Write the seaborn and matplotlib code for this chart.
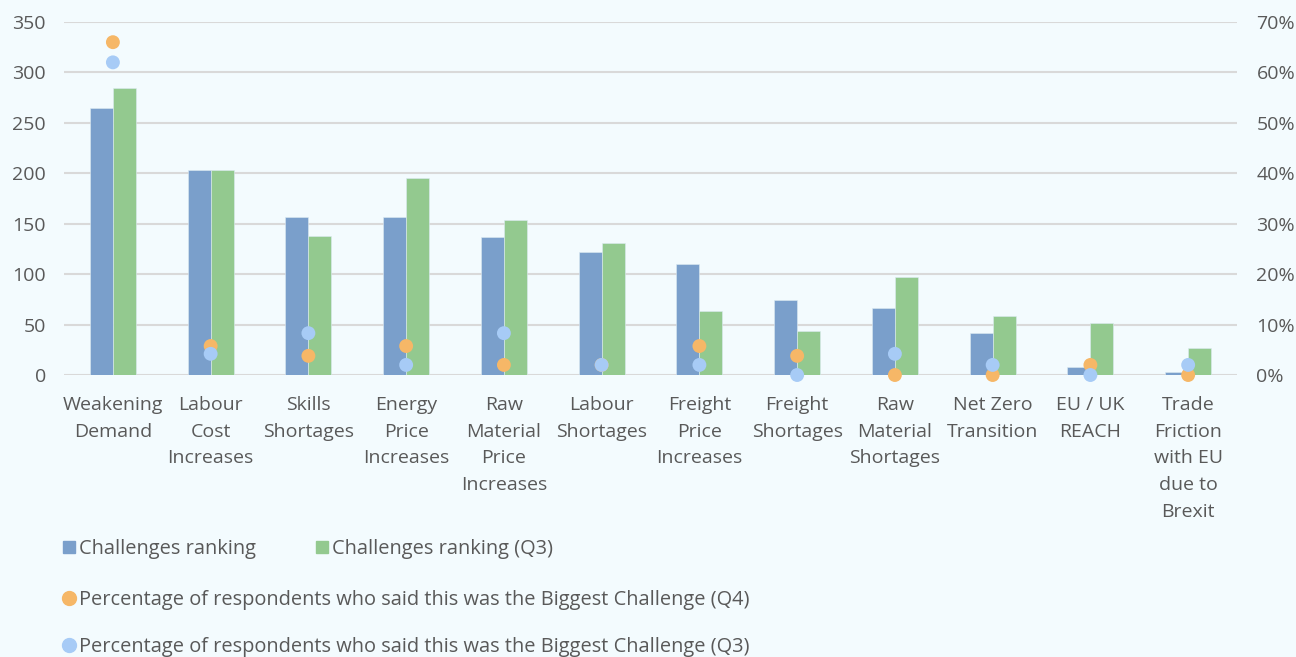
import numpy as np
import pandas as pd
import matplotlib
matplotlib.use('Agg')
import matplotlib.pyplot as plt
from matplotlib.lines import Line2D
import seaborn as sns

categories = [
    'Weakening\nDemand', 'Labour\nCost\nIncreases', 'Skills\nShortages',
    'Energy\nPrice\nIncreases', 'Raw\nMaterial\nPrice\nIncreases',
    'Labour\nShortages', 'Freight\nPrice\nIncreases', 'Freight\nShortages',
    'Raw\nMaterial\nShortages', 'Net Zero\nTransition', 'EU / UK\nREACH',
    'Trade\nFriction\nwith EU\ndue to\nBrexit',
]
ranking_q4 = [265, 203, 157, 157, 137, 122, 110, 74, 66, 42, 8, 3]
ranking_q3 = [285, 203, 138, 195, 154, 131, 63, 44, 97, 59, 52, 27]
biggest_q4 = [66, 5.75, 3.8, 5.75, 2, 2, 5.75, 3.8, 0, 0, 2, 0]
biggest_q3 = [62, 4.2, 8.3, 2, 8.3, 2, 2, 0, 4.2, 2, 0, 2]

bar_labels = ['Challenges ranking', 'Challenges ranking (Q3)']
dot_labels = ['Percentage of respondents who said this was the Biggest Challenge (Q4)',
              'Percentage of respondents who said this was the Biggest Challenge (Q3)']

BG = '#F3FBFE'
TXT = '#595959'
BLUE = '#7A9FCB'
GREEN = '#93C98F'
ORANGE = '#F6B767'
LBLUE = '#A7CBF6'
FS = 14

sns.set_theme(style='white')
plt.rcParams['font.family'] = ['Open Sans', 'DejaVu Sans']

bars = pd.DataFrame({
    'category': categories * 2,
    'value': ranking_q4 + ranking_q3,
    'series': [bar_labels[0]] * 12 + [bar_labels[1]] * 12,
})
dots = pd.DataFrame({
    'category': categories * 2,
    'pct': biggest_q4 + biggest_q3,
    'series': [dot_labels[0]] * 12 + [dot_labels[1]] * 12,
})

fig = plt.figure(figsize=(12.96, 6.57), dpi=100, facecolor=BG)
ax = fig.add_axes([0.0494, 0.4292, 0.9051, 0.5373])
ax.set_facecolor(BG)

sns.barplot(data=bars, x='category', y='value', hue='series', order=categories,
            palette=[BLUE, GREEN], width=0.47, ax=ax, legend=False, saturation=1,
            edgecolor='#DCEBF2', linewidth=0.4)
ax.set_ylim(0, 350)
ax.set_yticks(range(0, 351, 50))
ax.set_xlim(-0.5, 11.5)
ax.grid(axis='y', color='#D9D9D9', linewidth=1.5)
ax.set_axisbelow(True)
ax.set_xlabel('')
ax.set_ylabel('')
for s in ax.spines.values():
    s.set_visible(False)
ax.tick_params(axis='y', length=0, pad=13, labelsize=FS, labelcolor=TXT)
ax.tick_params(axis='x', length=0, pad=15, labelsize=FS, labelcolor=TXT)
for lbl in ax.get_xticklabels():
    lbl.set_linespacing(1.62)
    lbl.set_verticalalignment('top')

ax2 = ax.twinx()
sns.stripplot(data=dots, x='category', y='pct', hue='series', order=categories,
              palette=[ORANGE, LBLUE], jitter=False, size=10, linewidth=0,
              ax=ax2, legend=False, zorder=5)
ax2.set_ylim(0, 70)
ax2.set_yticks(range(0, 71, 10))
ax2.set_yticklabels([f'{v}%' for v in range(0, 71, 10)])
ax2.set_xlim(-0.5, 11.5)
ax2.set_ylabel('')
ax2.set_xlabel('')
for s in ax2.spines.values():
    s.set_visible(False)
ax2.tick_params(axis='y', length=0, pad=14, labelsize=FS, labelcolor=TXT)
for c in ax2.collections:
    c.set_clip_on(False)

h1 = [Line2D([], [], marker='s', linestyle='', color=BLUE, markersize=8),
      Line2D([], [], marker='s', linestyle='', color=GREEN, markersize=8)]
fig.legend(h1, bar_labels, loc='center left', bbox_to_anchor=(0.035, 0.165), ncol=2,
           frameon=False, fontsize=FS + 0.4, labelcolor=TXT, handlelength=0.6,
           handletextpad=0.2, columnspacing=3.0)
fig.legend([Line2D([], [], marker='o', linestyle='', color=ORANGE, markersize=10)],
           [dot_labels[0]], loc='center left', bbox_to_anchor=(0.035, 0.086),
           frameon=False, fontsize=FS + 0.4, labelcolor=TXT, handlelength=0.6, handletextpad=0.2)
fig.legend([Line2D([], [], marker='o', linestyle='', color=LBLUE, markersize=10)],
           [dot_labels[1]], loc='center left', bbox_to_anchor=(0.035, 0.015),
           frameon=False, fontsize=FS + 0.4, labelcolor=TXT, handlelength=0.6, handletextpad=0.2)

fig.savefig('out.png', dpi=100, facecolor=BG)
